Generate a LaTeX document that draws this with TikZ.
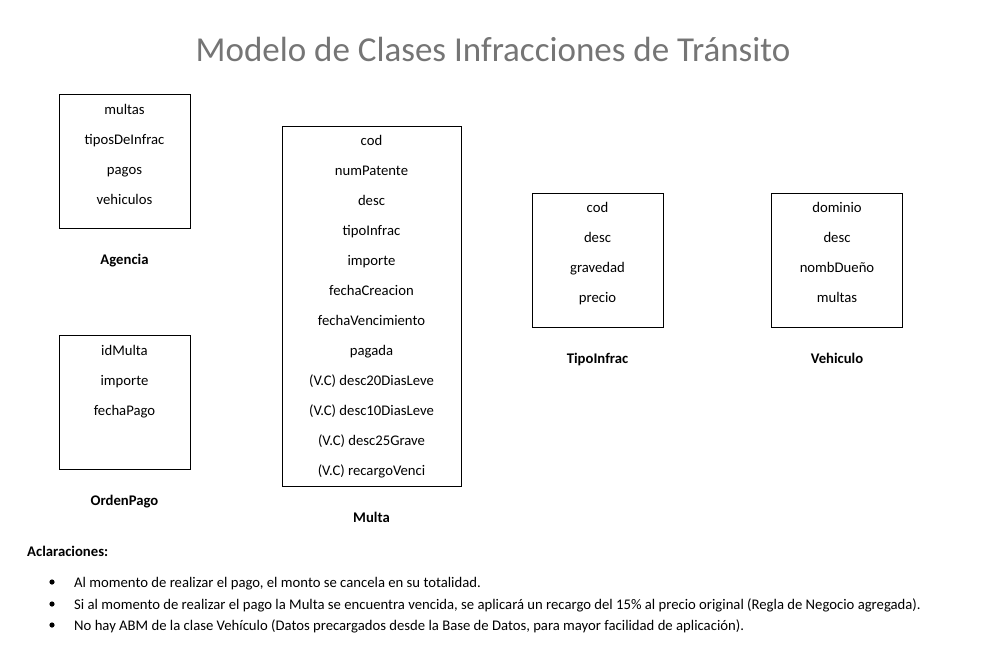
\documentclass[tikz,border=0pt]{standalone}
\usepackage{fontspec}
\setmainfont{Carlito}
\usepackage{xcolor}
\usepackage{tikz}
\usetikzlibrary{positioning, calc}

\begin{document}
\begin{tikzpicture}[x=1pt, y=-1pt,
        clase/.style={
                draw,
                line width=0.8pt,
                minimum width=131pt,
                inner sep=0pt,
        },
        atributo/.style={font=\fontsize{14.7}{17}\selectfont, inner sep=0pt, text height=12pt, text depth=1pt},
        nombre/.style={font=\fontsize{14.7}{17}\selectfont\bfseries, inner sep=0pt, text height=12pt, text depth=1pt},
        nota/.style={font=\fontsize{14.7}{17}\selectfont, inner sep=0pt, anchor=west, text height=12pt, text depth=1pt},
        ]
            \useasboundingbox (0, 0) rectangle (986, 662);
            \node[font=\fontsize{35}{42}\selectfont, text=black!54, text height=28pt, text depth=5pt] (titulo) at (493, 50) {Modelo de Clases Infracciones de Tránsito};

            % clases
            \node[clase, minimum height=134pt] (agencia) at (124.5, 161) {};
            \node[clase, minimum height=134pt] (ordenpago) at (124.5, 402) {};
            \node[clase, minimum width=179pt, minimum height=360pt] (multa) at (371.5, 306) {};
            \node[clase, minimum height=134pt] (tipoinfrac) at (597.5, 260) {};
            \node[clase, minimum height=134pt] (vehiculo) at (837, 260) {};

            \node[nombre] (agenciaN) at (124.5, 259) {Agencia};
            \node[nombre] (ordenpagoN) at (124.5, 500) {OrdenPago};
            \node[nombre] (multaN) at (371.5, 517) {Multa};
            \node[nombre] (tipoinfracN) at (597.5, 358) {TipoInfrac};
            \node[nombre] (vehiculoN) at (837, 358) {Vehiculo};

            % atributos
            \foreach \t [count=\i] in {multas, tiposDeInfrac, pagos, vehiculos}
                \node[atributo] (agencia-\i) at (124.5, 79 + 30*\i) {\t};
            \foreach \t [count=\i] in {idMulta, importe, fechaPago}
                \node[atributo] (ordenpago-\i) at (124.5, 320 + 30*\i) {\t};
            \foreach \t [count=\i] in {cod, numPatente, desc, tipoInfrac, importe, fechaCreacion, fechaVencimiento, pagada, (V.C) desc20DiasLeve, (V.C) desc10DiasLeve, (V.C) desc25Grave, (V.C) recargoVenci}
                \node[atributo] (multa-\i) at (371.5, 110 + 30*\i) {\t};
            \foreach \t [count=\i] in {cod, desc, gravedad, precio}
                \node[atributo] (tipoinfrac-\i) at (597.5, 177 + 30*\i) {\t};
            \foreach \t [count=\i] in {dominio, desc, nombDueño, multas}
                \node[atributo] (vehiculo-\i) at (837, 177 + 30*\i) {\t};

            % aclaraciones
            \node[nombre, anchor=west] (aclaraciones) at (27, 551) {Aclaraciones:};
            \node[nota] (nota1) at (74, 582) {Al momento de realizar el pago, el monto se cancela en su totalidad.};
            \node[nota] (nota2) at (74, 604) {Si al momento de realizar el pago la Multa se encuentra vencida, se aplicará un recargo del 15\% al precio original (Regla de Negocio agregada).};
            \node[nota] (nota3) at (74, 625) {No hay ABM de la clase Vehículo (Datos precargados desde la Base de Datos, para mayor facilidad de aplicación).};
            \foreach \i in {1, 2, 3}
                \fill ($(nota\i.west) + (-22, 0)$) circle (2.6);
        \end{tikzpicture}
\end{document}
